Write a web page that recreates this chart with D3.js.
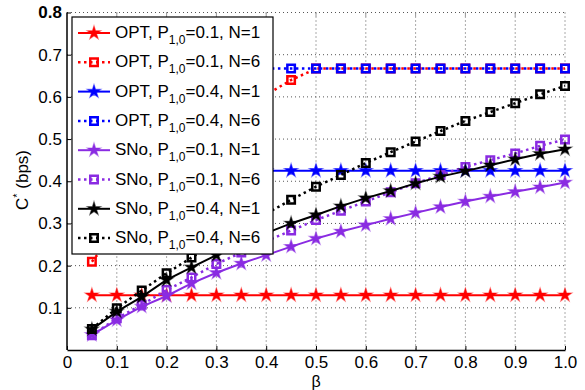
<!DOCTYPE html>
<html>
<head>
<meta charset="utf-8">
<script src="https://cdn.jsdelivr.net/npm/d3@7"></script>
<style>
  body { margin: 0; background: #fff; }
  svg { font-family: "Liberation Sans", Arial, sans-serif; }
</style>
</head>
<body>
<svg id="chart" width="585" height="390"></svg>
<script>
// valori
const beta = [0.05, 0.1, 0.15, 0.2, 0.25, 0.3, 0.35, 0.4, 0.45, 0.5,
              0.55, 0.6, 0.65, 0.7, 0.75, 0.8, 0.85, 0.9, 0.95, 1.0];

const optP01N1 = [0.13, 0.13, 0.13, 0.13, 0.13, 0.13, 0.13, 0.13, 0.13, 0.13,
                  0.13, 0.13, 0.13, 0.13, 0.13, 0.13, 0.13, 0.13, 0.13, 0.13];
const optP01N6 = [0.209, 0.285, 0.35, 0.41, 0.46, 0.51, 0.56, 0.605, 0.64, 0.667,
                  0.667, 0.667, 0.667, 0.667, 0.667, 0.667, 0.667, 0.667, 0.667, 0.667];
const optP04N1 = [0.425, 0.425, 0.425, 0.425, 0.425, 0.425, 0.425, 0.425, 0.425, 0.425,
                  0.425, 0.425, 0.425, 0.425, 0.425, 0.425, 0.425, 0.425, 0.425, 0.425];
const optP04N6 = [0.667, 0.667, 0.667, 0.667, 0.667, 0.667, 0.667, 0.667, 0.667, 0.667,
                  0.667, 0.667, 0.667, 0.667, 0.667, 0.667, 0.667, 0.667, 0.667, 0.667];
const snoP01N1 = [0.036, 0.071, 0.103, 0.128, 0.158, 0.183, 0.205, 0.225, 0.245, 0.264,
                  0.281, 0.296, 0.311, 0.325, 0.339, 0.352, 0.364, 0.375, 0.386, 0.397];
const snoP01N6 = [0.035, 0.075, 0.107, 0.142, 0.172, 0.204, 0.231, 0.258, 0.283, 0.308,
                  0.330, 0.352, 0.374, 0.395, 0.415, 0.434, 0.450, 0.466, 0.484, 0.499];
const snoP04N1 = [0.049, 0.091, 0.126, 0.166, 0.196, 0.225, 0.252, 0.277, 0.300, 0.320,
                  0.341, 0.360, 0.377, 0.395, 0.411, 0.424, 0.438, 0.452, 0.465, 0.476];
const snoP04N6 = [0.05, 0.099, 0.141, 0.182, 0.219, 0.256, 0.29, 0.323, 0.356, 0.387,
                  0.415, 0.443, 0.469, 0.494, 0.519, 0.543, 0.564, 0.585, 0.606, 0.626];

const xTicks = [0, 0.1, 0.2, 0.3, 0.4, 0.5, 0.6, 0.7, 0.8, 0.9, 1.0];
const yTicks = [0.1, 0.2, 0.3, 0.4, 0.5, 0.6, 0.7, 0.8];

const series = [
  { alg: "OPT", p: "0.1", n: "1", values: optP01N1, color: "#ff0000", dotted: false },
  { alg: "OPT", p: "0.1", n: "6", values: optP01N6, color: "#ff0000", dotted: true },
  { alg: "OPT", p: "0.4", n: "1", values: optP04N1, color: "#0000ff", dotted: false },
  { alg: "OPT", p: "0.4", n: "6", values: optP04N6, color: "#0000ff", dotted: true },
  { alg: "SNo", p: "0.1", n: "1", values: snoP01N1, color: "#8a2be2", dotted: false },
  { alg: "SNo", p: "0.1", n: "6", values: snoP01N6, color: "#8a2be2", dotted: true },
  { alg: "SNo", p: "0.4", n: "1", values: snoP04N1, color: "#000000", dotted: false },
  { alg: "SNo", p: "0.4", n: "6", values: snoP04N6, color: "#000000", dotted: true }
];

const svg = d3.select("#chart");

const plotLeft = 67, plotRight = 565, plotTop = 12.5, plotBottom = 350;

const x = d3.scaleLinear().domain([0, 1]).range([plotLeft, plotRight]);
const y = d3.scaleLinear().domain([0, 0.8]).range([plotBottom, plotTop]);

// griglia tratteggiata
const grid = svg.append("g");
grid.selectAll(".gx")
    .data(xTicks.slice(1))
    .enter().append("line")
    .attr("x1", d => x(d)).attr("x2", d => x(d))
    .attr("y1", plotTop).attr("y2", plotBottom)
    .attr("stroke", "#555").attr("stroke-width", 1)
    .attr("stroke-dasharray", "1,3");
grid.selectAll(".gy")
    .data(yTicks)
    .enter().append("line")
    .attr("x1", plotLeft).attr("x2", plotRight)
    .attr("y1", d => y(d)).attr("y2", d => y(d))
    .attr("stroke", "#555").attr("stroke-width", 1)
    .attr("stroke-dasharray", "1,3");

// piccole tacche in alto
grid.selectAll(".tt")
    .data(xTicks.slice(1, -1))
    .enter().append("line")
    .attr("x1", d => x(d)).attr("x2", d => x(d))
    .attr("y1", plotTop).attr("y2", plotTop + 4)
    .attr("stroke", "#999").attr("stroke-width", 1);

// assi
const xAxis = svg.append("g")
    .attr("transform", `translate(0,${plotBottom})`)
    .call(d3.axisBottom(x).tickValues(xTicks).tickSizeInner(-4).tickSizeOuter(0)
        .tickFormat(d => d === 1 ? "1.0" : d3.format("")(d)));
xAxis.select(".domain").attr("stroke", "#000").attr("stroke-width", 1.5);
xAxis.selectAll("text")
    .attr("y", 3).attr("dy", "0.9em")
    .style("font-size", "17px").attr("fill", "#000");

const yAxis = svg.append("g")
    .attr("transform", `translate(${plotLeft},0)`)
    .call(d3.axisLeft(y).tickValues(yTicks).tickSizeInner(-4).tickSizeOuter(0)
        .tickFormat(d3.format(".1f")));
yAxis.select(".domain").attr("stroke", "#000").attr("stroke-width", 1.5)
    .attr("d", `M0,${plotBottom}V${plotTop}`);
yAxis.selectAll("text")
    .attr("x", -5)
    .style("font-size", "17px").attr("fill", "#000")
    .style("font-weight", d => d === 0.8 ? "bold" : "normal");

// etichette assi
svg.append("text")
    .attr("x", x(0.5)).attr("y", 387)
    .attr("text-anchor", "middle")
    .style("font-size", "16px")
    .text("β");

const yLabel = svg.append("text")
    .attr("transform", "translate(28,180) rotate(-90)")
    .attr("text-anchor", "middle")
    .style("font-size", "17px");
yLabel.append("tspan").text("C");
yLabel.append("tspan").attr("dy", -7).style("font-size", "11px").text("*");
yLabel.append("tspan").attr("dy", 7).text(" (bps)");

// curve
const line = d3.line()
    .x((d, i) => x(beta[i]))
    .y(d => y(d));

const star = d3.symbol().type(d3.symbolStar).size(55);
const square = d3.symbol().type(d3.symbolSquare).size(56);

function drawMarkers(g, s, px, py) {
    if (s.dotted) {
        g.append("path")
            .attr("d", square())
            .attr("transform", `translate(${px},${py})`)
            .attr("fill", "none")
            .attr("stroke", s.color)
            .attr("stroke-width", 2.5);
    } else {
        g.append("path")
            .attr("d", star())
            .attr("transform", `translate(${px},${py})`)
            .attr("fill", s.color)
            .attr("stroke", s.color)
            .attr("stroke-opacity", 0.5)
            .attr("stroke-width", 1.2);
    }
}

series.forEach(s => {
    const g = svg.append("g");
    g.append("path")
        .datum(s.values)
        .attr("d", line)
        .attr("fill", "none")
        .attr("stroke", s.color)
        .attr("stroke-width", s.dotted ? 2.5 : 2)
        .attr("stroke-dasharray", s.dotted ? "2.5,3.5" : null);
    s.values.forEach((v, i) => drawMarkers(g, s, x(beta[i]), y(v)));
});

// legenda
const legend = svg.append("g");
legend.append("rect")
    .attr("x", 72).attr("y", 17)
    .attr("width", 201).attr("height", 237)
    .attr("fill", "#fff").attr("stroke", "#000").attr("stroke-width", 1.2);

series.forEach((s, i) => {
    const ly = 33 + i * 29.3;
    const g = legend.append("g");
    g.append("line")
        .attr("x1", 78).attr("x2", 110)
        .attr("y1", ly).attr("y2", ly)
        .attr("stroke", s.color)
        .attr("stroke-width", s.dotted ? 2.5 : 2)
        .attr("stroke-dasharray", s.dotted ? "2.5,3.5" : null);
    drawMarkers(g, s, 94, ly);
    const t = g.append("text")
        .attr("x", 115).attr("y", ly + 5)
        .style("font-size", "17px");
    t.append("tspan").text(`${s.alg}, P`);
    t.append("tspan").attr("dy", 6).style("font-size", "12px").text("1,0");
    t.append("tspan").attr("dy", -6).text(`=${s.p}, N=${s.n}`);
});
</script>
</body>
</html>
